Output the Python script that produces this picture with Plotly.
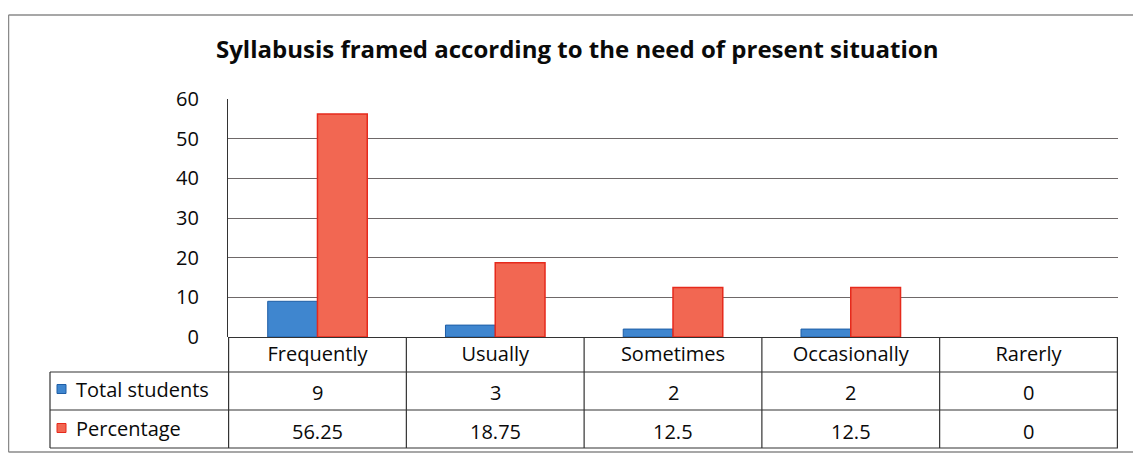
import plotly.graph_objects as go

# the page puts the figure 8px in from the top-left corner
OFF = 8
W, H = 1141 - OFF, 456 - OFF

categories = ["Frequently", "Usually", "Sometimes", "Occasionally", "Rarerly"]
total_students = [9, 3, 2, 2, 0]
percentage = [56.25, 18.75, 12.5, 12.5, 0]
series_names = ["Total students", "Percentage"]
y_ticks = [0, 10, 20, 30, 40, 50, 60]

title = "Syllabusis framed according to the need of present situation"

blue, blue_edge = "#3f86cf", "#1f5ea6"
red, red_edge = "#f26752", "#e62a1c"
grid = "#6e6868"
font = "Open Sans"
ink = "#0a0a0a"


def px_x(p):
    return (p - OFF) / W


def px_y(p):
    return 1 - (p - OFF) / H


def fmt(v):
    return f"{v:g}"


fig = go.Figure()
fig.add_trace(go.Bar(x=categories, y=total_students, name=series_names[0],
                     marker=dict(color=blue, line=dict(color=blue_edge,
                                 width=[1 if v else 0 for v in total_students]))))
fig.add_trace(go.Bar(x=categories, y=percentage, name=series_names[1],
                     marker=dict(color=red, line=dict(color=red_edge,
                                 width=[1.5 if v else 0 for v in percentage]))))

shapes = []
# outer frame of the picture (right side runs off the page)
frame = dict(color="#8a8a8a", width=1.5)
shapes.append(dict(type="line", xref="paper", yref="paper",
                   x0=px_x(8.5), x1=1, y0=px_y(15), y1=px_y(15), line=frame))
shapes.append(dict(type="line", xref="paper", yref="paper",
                   x0=px_x(8.5), x1=1, y0=px_y(452), y1=px_y(452), line=frame))
shapes.append(dict(type="line", xref="paper", yref="paper",
                   x0=px_x(8.5), x1=px_x(8.5), y0=px_y(452), y1=px_y(15), line=frame))

# data table under the chart
cell = dict(color="#333", width=1.2)
for r in [372, 410, 448]:
    shapes.append(dict(type="line", xref="paper", yref="paper",
                       x0=px_x(50), x1=px_x(1118), y0=px_y(r), y1=px_y(r), line=cell))
for k in range(len(categories) + 1):
    shapes.append(dict(type="line", xref="x", yref="paper",
                       x0=k - 0.5, x1=k - 0.5, y0=px_y(448), y1=px_y(337), line=cell))
shapes.append(dict(type="line", xref="paper", yref="paper",
                   x0=px_x(50), x1=px_x(50), y0=px_y(448), y1=px_y(372), line=cell))

# legend keys in the table
for yc, c, e in [(389, blue, blue_edge), (428, red, red_edge)]:
    shapes.append(dict(type="rect", xref="paper", yref="paper",
                       x0=px_x(57), x1=px_x(66), y0=px_y(yc + 4.5), y1=px_y(yc - 4.5),
                       fillcolor=c, line=dict(color=e, width=1)))

annotations = []
for yc, name in zip([389, 428], series_names):
    annotations.append(dict(x=px_x(74), y=px_y(yc), xref="paper", yref="paper",
                            text=name, showarrow=False, xanchor="left", yanchor="middle",
                            font=dict(size=20, color=ink, family=font)))
for i, cat in enumerate(categories):
    for yc, vals in [(392, total_students), (431, percentage)]:
        annotations.append(dict(x=i, y=px_y(yc), xref="x", yref="paper",
                                text=fmt(vals[i]), showarrow=False,
                                xanchor="center", yanchor="middle",
                                font=dict(size=20, color=ink, family=font)))

annotations.append(dict(x=px_x(577), y=px_y(49), xref="paper", yref="paper",
                        text="<b>" + title + "</b>", showarrow=False,
                        xanchor="center", yanchor="middle",
                        font=dict(size=24, color=ink, family=font)))

fig.update_layout(
    width=W, height=H, autosize=False,
    margin=dict(l=0, r=0, t=0, b=0, pad=0),
    paper_bgcolor="white", plot_bgcolor="white",
    showlegend=False,
    barmode="group", bargap=0.44, bargroupgap=0,
    shapes=shapes, annotations=annotations,
    font=dict(family=font, color=ink),
)
fig.update_xaxes(domain=[px_x(228), px_x(1118)], showgrid=False, automargin=False,
                 showline=False, ticks="", ticklabelstandoff=3,
                 tickfont=dict(size=20, color=ink, family=font))
fig.update_yaxes(domain=[px_y(337), px_y(99)], range=[0, 60], automargin=False,
                 tickvals=y_ticks, showgrid=True, gridcolor=grid, gridwidth=1.2,
                 zeroline=True, zerolinecolor="#333", zerolinewidth=1.2,
                 showline=True, linecolor="#333", linewidth=1.2,
                 ticks="", ticklabelstandoff=24,
                 tickfont=dict(size=20, color=ink, family=font))

fig.write_html("out.html")
